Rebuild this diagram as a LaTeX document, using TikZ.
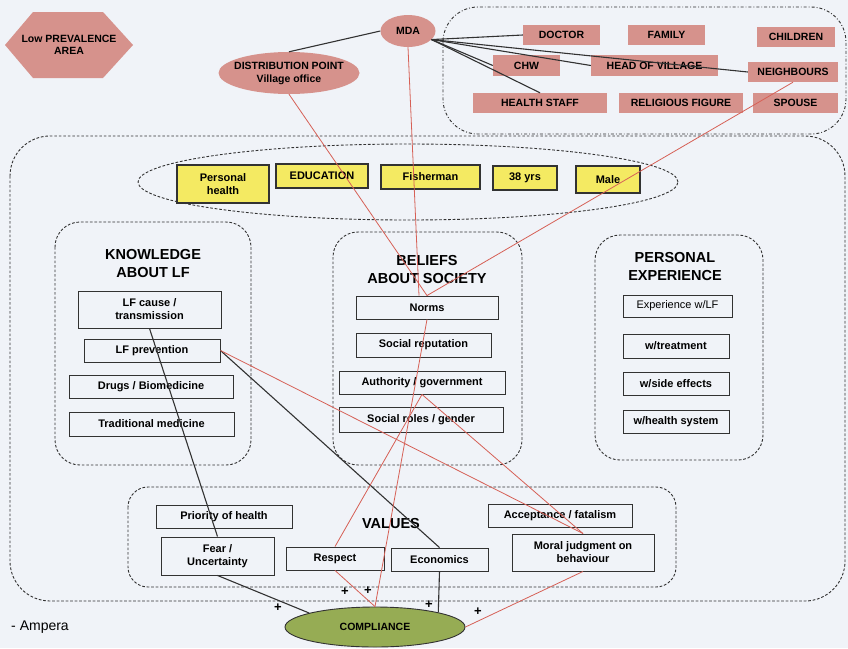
\documentclass[tikz,border=0pt]{standalone}
\usepackage{fontspec}
\setmainfont{Liberation Sans}
\usetikzlibrary{shapes.geometric}
\definecolor{bgc}{RGB}{240,243,248}
\definecolor{rose}{RGB}{214,146,140}
\definecolor{yel}{RGB}{244,234,98}
\definecolor{olive}{RGB}{150,172,84}
\definecolor{redl}{RGB}{214,96,86}
\definecolor{dark}{RGB}{50,50,50}
\begin{document}
\begin{tikzpicture}[x=1pt,y=-1pt,
  box/.style={draw=dark, line width=0.9pt, fill=bgc, inner sep=0pt, align=center,
    font=\fontsize{11}{13}\selectfont\bfseries},
  rbox/.style={fill=rose, inner sep=0pt, align=center,
    font=\fontsize{10.5}{12.5}\selectfont\bfseries},
  ybox/.style={draw=dark, line width=1.1pt, fill=yel, inner sep=0pt, align=center,
    font=\fontsize{11}{13}\selectfont\bfseries},
  grp/.style={draw=dark, line width=0.9pt, dash pattern=on 2.7pt off 1.8pt, rounded corners=25pt},
  ttl/.style={font=\fontsize{14.5}{18}\selectfont\bfseries, align=center, inner sep=0pt},
  rl/.style={draw=redl, line width=0.8pt},
  bl/.style={draw=dark, line width=1.1pt},
  plus/.style={font=\fontsize{13}{13}\selectfont\bfseries, inner sep=0pt}
]
\useasboundingbox (0,0) rectangle (848,648);
\fill[bgc] (0,0) rectangle (848,648);

% regions
\draw[dark, line width=0.9pt, dash dot, rounded corners=35pt] (443,7) rectangle (846,134);
\draw[dark, line width=0.9pt, dash pattern=on 2.7pt off 1.8pt, rounded corners=40pt] (10,136) rectangle (845,601);
\node[ellipse, draw=dark, line width=0.9pt, dash pattern=on 2.7pt off 1.8pt, minimum width=540pt, minimum height=76pt, inner sep=0pt] (yell) at (408,182) {};
\draw[grp] (55,222) rectangle (251,465);
\draw[grp] (333,232) rectangle (522,465);
\draw[grp] (595,235) rectangle (763,460);
\draw[grp, rounded corners=20pt] (128,487) rectangle (676,587);

% top left hexagon
\fill[rose] (5,45) -- (33,12) -- (103,12) -- (133,45) -- (103,78) -- (33,78) -- cycle;
\node[align=center, font=\fontsize{10.5}{12.5}\selectfont\bfseries] (low) at (69,45) {Low PREVALENCE\\AREA};

% MDA and distribution
\node[ellipse, fill=rose, minimum width=55pt, minimum height=32pt, inner sep=0pt, font=\fontsize{10.5}{12}\selectfont\bfseries] (mda) at (408,31) {MDA};
\node[ellipse, fill=rose, minimum width=141pt, minimum height=42pt, inner sep=0pt] (dist) at (289,73) {};
\node[align=center, inner sep=0pt, font=\fontsize{10.5}{13}\selectfont\bfseries] (distlbl) at (dist.center) {DISTRIBUTION POINT\\Village office};

% actors
\node[rbox, minimum width=77pt, minimum height=20pt] (doctor) at (561.5,35) {DOCTOR};
\node[rbox, minimum width=77pt, minimum height=20pt] (family) at (666.5,35) {FAMILY};
\node[rbox, minimum width=78pt, minimum height=20pt] (children) at (796,37) {CHILDREN};
\node[rbox, minimum width=67pt, minimum height=21pt] (chw) at (526.5,65.5) {CHW};
\node[rbox, minimum width=127pt, minimum height=21pt] (headv) at (654.5,65.5) {HEAD OF VILLAGE};
\node[rbox, minimum width=90pt, minimum height=20pt] (neigh) at (793,72) {NEIGHBOURS};
\node[rbox, minimum width=134pt, minimum height=20pt] (hstaff) at (540,103) {HEALTH STAFF};
\node[rbox, minimum width=124pt, minimum height=20pt] (relig) at (681,103) {RELIGIOUS FIGURE};
\node[rbox, minimum width=85pt, minimum height=20pt] (spouse) at (795.5,103) {SPOUSE};

% yellow
\node[ybox, minimum width=92pt, minimum height=38pt] (phealth) at (223,184) {Personal\\health};
\node[ybox, minimum width=92pt, minimum height=24pt] (edu) at (322,176) {EDUCATION};
\node[ybox, minimum width=99pt, minimum height=24pt] (fisher) at (430.5,177) {Fisherman};
\node[ybox, minimum width=64pt, minimum height=24pt] (yrs) at (525,178) {38 yrs};
\node[ybox, minimum width=64pt, minimum height=27pt] (male) at (608,179.5) {Male};

% knowledge
\node[ttl] (kttl) at (153,264) {KNOWLEDGE\\ABOUT LF};
\node[box, minimum width=143pt, minimum height=37pt] (lfcause) at (149.5,309.5) {LF cause /\\transmission};
\node[box, minimum width=136pt, minimum height=23pt] (lfprev) at (152,350.5) {LF prevention};
\node[box, minimum width=164pt, minimum height=23pt] (drugs) at (151,386.5) {Drugs / Biomedicine};
\node[box, minimum width=165pt, minimum height=24pt] (trad) at (151.5,424) {Traditional medicine};

% beliefs
\node[ttl] (bttl) at (427,270) {BELIEFS\\ABOUT SOCIETY};
\node[box, minimum width=142pt, minimum height=23pt] (norms) at (427,307.5) {Norms};
\node[box, minimum width=135pt, minimum height=24pt] (socrep) at (423.5,345) {Social reputation};
\node[box, minimum width=166pt, minimum height=23pt] (auth) at (422,382.5) {Authority / government};
\node[box, minimum width=164pt, minimum height=25pt] (roles) at (421,419.5) {Social roles / gender};

% personal experience
\node[ttl] (pttl) at (675,267) {PERSONAL\\EXPERIENCE};
\node[box, minimum width=109pt, minimum height=22pt, font=\fontsize{11}{13}\selectfont] (exp) at (677.5,306) {Experience w/LF};
\node[box, minimum width=106pt, minimum height=24pt] (treat) at (676,346) {w/treatment};
\node[box, minimum width=106pt, minimum height=23pt] (side) at (676,383.5) {w/side effects};
\node[box, minimum width=106pt, minimum height=23pt] (hsys) at (676,421.5) {w/health system};

% values
\node[ttl] (vttl) at (391,523) {VALUES};
\node[box, minimum width=136pt, minimum height=23pt] (prio) at (224,516.5) {Priority of health};
\node[box, minimum width=113pt, minimum height=38pt] (fear) at (217.5,556) {Fear /\\Uncertainty};
\node[box, minimum width=98pt, minimum height=23pt] (respect) at (335,558.5) {Respect};
\node[box, minimum width=97pt, minimum height=23pt] (econ) at (439.5,559.5) {Economics};
\node[box, minimum width=144pt, minimum height=23pt] (accept) at (560,515.5) {Acceptance / fatalism};
\node[box, minimum width=142pt, minimum height=37pt] (moral) at (583,552.5) {Moral judgment on\\behaviour};

% compliance
\node[ellipse, draw=dark, line width=0.9pt, fill=olive, minimum width=180pt, minimum height=40pt, inner sep=0pt, font=\fontsize{10.5}{12}\selectfont\bfseries] (comp) at (375,627) {COMPLIANCE};
\node[font=\fontsize{14}{16}\selectfont, inner sep=0pt] (ampera) at (40,627) {- Ampera};

% black connectors
\draw[bl] (dist.north) -- (mda.west);
\draw[bl] (mda.-20) -- (doctor.west);
\draw[bl] (mda.-20) -- (chw.west);
\draw[bl] (mda.-20) -- (headv.west);
\draw[bl] (mda.-20) -- (neigh.west);
\draw[bl] (mda.-20) -- (hstaff.north);
\draw[bl] (lfcause.south) -- (fear.north);
\draw[bl] (lfprev.east) -- (econ.north);
\draw[bl] (fear.south) -- (comp.168);
\draw[bl] (econ.south) -- (comp.13);

% red connectors
\draw[rl] (dist.south) -- (norms.north);
\draw[rl] (mda.south) -- ([xshift=-8pt]norms.north);
\draw[rl] (neigh.south) -- (norms.north);
\draw[rl] (norms.south) -- (comp.north);
\draw[rl] (auth.south) -- (respect.north);
\draw[rl] (auth.south) -- (moral.north);
\draw[rl] (respect.south) -- (comp.north);
\draw[rl] (lfprev.east) -- (moral.north);
\draw[rl] (moral.south) -- (comp.east);

% plus signs
\node[plus] (p1) at (278,608) {+};
\node[plus] (p2) at (345,592) {+};
\node[plus] (p3) at (368,591) {+};
\node[plus] (p4) at (429,605) {+};
\node[plus] (p5) at (478,612) {+};
\end{tikzpicture}
\end{document}
